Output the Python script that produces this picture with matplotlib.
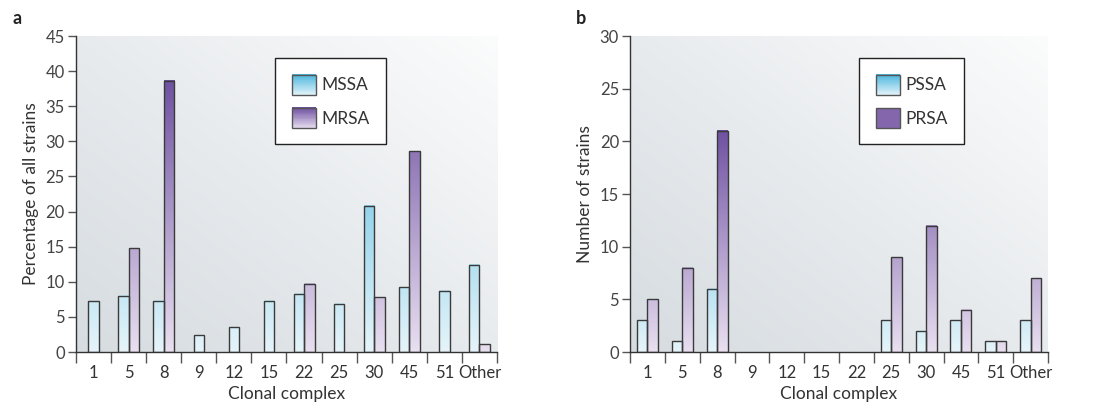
"""
Clonal complex distribution of S. aureus strains (panels a and b).
"""
import matplotlib
matplotlib.use("Agg")
import matplotlib.pyplot as plt
import numpy as np
from matplotlib.colors import LinearSegmentedColormap
from matplotlib.patches import Rectangle
from matplotlib.legend_handler import HandlerBase

plt.rcParams['font.family'] = ['Lato', 'DejaVu Sans']

categories = ['1', '5', '8', '9', '12', '15', '22', '25', '30', '45', '51', 'Other']

# panel a: percentage of all strains (None = no bar)
mssa = [7.2, 8.0, 7.3, 2.4, 3.5, 7.3, 8.3, 6.9, 20.8, 9.2, 8.7, 12.4]
mrsa = [None, 14.8, 38.6, None, None, None, 9.7, None, 7.8, 28.6, None, 1.1]

# panel b: number of strains
pssa = [3, 1, 6, 0, 0, 0, 0, 3, 2, 3, 1, 3]
prsa = [5, 8, 21, 0, 0, 0, 0, 9, 12, 4, 1, 7]

blue_cmap = LinearSegmentedColormap.from_list('blue', ['#e6f4fa', '#4db7de'])
purple_cmap = LinearSegmentedColormap.from_list('purple', ['#e8dff0', '#7052a2'])
bg_cmap = LinearSegmentedColormap.from_list('bg', ['#d6dce0', '#e8ebee', '#fbfcfc'])

EDGE = '#3a3a3a'
WIDTH = 0.3


class GradientHandler(HandlerBase):
    def __init__(self, cmap, solid=None):
        super().__init__()
        self.cmap = cmap
        self.solid = solid

    def create_artists(self, legend, orig_handle, xdescent, ydescent,
                       width, height, fontsize, trans):
        x0, y0 = -xdescent, -ydescent
        arts = []
        if self.solid is not None:
            arts.append(Rectangle((x0, y0), width, height, facecolor=self.solid,
                                  edgecolor='none', transform=trans))
        else:
            n = 24
            for k in range(n):
                c = self.cmap(0.05 + 0.95 * k / (n - 1))
                arts.append(Rectangle((x0, y0 + k * height / n), width, height / n + 0.3,
                                      facecolor=c, edgecolor='none', transform=trans))
        arts.append(Rectangle((x0, y0), width, height, facecolor='none',
                              edgecolor='#555555', lw=1.0, transform=trans))
        return arts


def draw_bar(ax, x, h, cmap, vmax):
    if h is None or h <= 0:
        return
    grad = np.linspace(0, h / vmax, 64).reshape(-1, 1)
    ax.imshow(grad, extent=[x - WIDTH / 2, x + WIDTH / 2, 0, h], origin='lower',
              cmap=cmap, vmin=0, vmax=1, aspect='auto', zorder=2,
              interpolation='bilinear')
    ax.bar(x, h, WIDTH, facecolor='none', edgecolor=EDGE, lw=1.0, zorder=3)


def plot_panel(ax, s1, s2, ymax, ystep, ylabel, names, solid2=None):
    # background gradient (dark bottom-left to white top-right)
    gx, gy = np.meshgrid(np.linspace(0, 1, 200), np.linspace(0, 1, 200))
    ax.imshow((gx + gy) / 2, extent=[0, 1, 0, 1], transform=ax.transAxes,
              origin='lower', cmap=bg_cmap, aspect='auto', zorder=0)

    vmax = max(v for v in s1 + s2 if v is not None)
    for i in range(len(categories)):
        a, b = s1[i], s2[i]
        has_a = a is not None and a > 0
        has_b = b is not None and b > 0
        if has_a and has_b:
            draw_bar(ax, i - WIDTH / 2, a, blue_cmap, vmax)
            draw_bar(ax, i + WIDTH / 2, b, purple_cmap, vmax)
        elif has_a:
            draw_bar(ax, i, a, blue_cmap, vmax)
        elif has_b:
            draw_bar(ax, i, b, purple_cmap, vmax)

    ax.set_xlim(-0.5, len(categories) - 0.5)
    ax.set_ylim(0, ymax)
    ax.set_yticks(np.arange(0, ymax + 1, ystep))
    ax.set_xticks(np.arange(-0.5, len(categories)))
    ax.set_xticklabels([])
    ax.set_xticks(np.arange(len(categories)), minor=True)
    ax.set_xticklabels(categories, minor=True)
    ax.tick_params(axis='x', which='major', length=8, width=1, color='#555555')
    ax.tick_params(axis='x', which='minor', length=0, pad=9, labelsize=12,
                   labelcolor='#333333')
    ax.tick_params(axis='y', length=6, width=1, color='#555555', labelsize=12,
                   labelcolor='#444444', pad=2)
    for side in ['top', 'right']:
        ax.spines[side].set_visible(False)
    for side in ['left', 'bottom']:
        ax.spines[side].set_color('#333333')
        ax.spines[side].set_linewidth(1.0)
    ax.set_xlabel('Clonal complex', fontsize=12.5, color='#333333', labelpad=4)
    ax.set_ylabel(ylabel, fontsize=12.5, color='#333333', labelpad=5)

    h1 = Rectangle((0, 0), 1, 1)
    h2 = Rectangle((0, 0), 1, 1)
    leg = ax.legend([h1, h2], names, loc='upper left',
                    handler_map={h1: GradientHandler(blue_cmap),
                                 h2: GradientHandler(purple_cmap, solid2)},
                    fontsize=12.5, frameon=True, fancybox=False, framealpha=1,
                    handlelength=1.4, handleheight=1.4, handletextpad=0.3,
                    labelspacing=0.75, borderpad=0.95, borderaxespad=0)
    leg.get_frame().set_edgecolor('#222222')
    leg.get_frame().set_linewidth(1.0)
    for t in leg.get_texts():
        t.set_color('#333333')
    return leg


fig = plt.figure(figsize=(11.04, 4.07), dpi=100)
ax_a = fig.add_axes([0.0688, 0.1351, 0.3814, 0.7764])
ax_b = fig.add_axes([0.5707, 0.1351, 0.3786, 0.7764])

leg_a = plot_panel(ax_a, mssa, mrsa, 45, 5, 'Percentage of all strains', ['MSSA', 'MRSA'])
leg_a.set_bbox_to_anchor((0.473, 0.93), transform=ax_a.transAxes)
leg_b = plot_panel(ax_b, pssa, prsa, 30, 5, 'Number of strains', ['PSSA', 'PRSA'],
                   solid2='#8466ad')
leg_b.set_bbox_to_anchor((0.548, 0.93), transform=ax_b.transAxes)

fig.text(0.011, 0.955, 'a', fontsize=13, fontweight='bold', color='#222222', va='center')
fig.text(0.522, 0.955, 'b', fontsize=13, fontweight='bold', color='#222222', va='center')

fig.savefig('out.png', dpi=100)
